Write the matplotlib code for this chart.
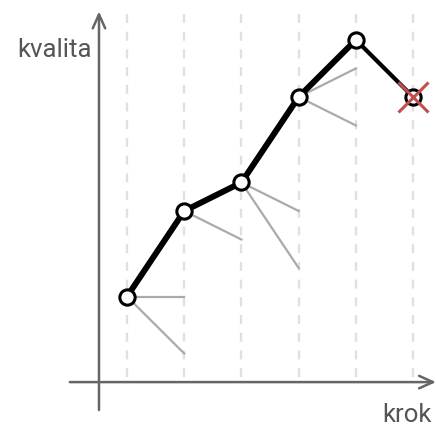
import matplotlib
matplotlib.use("Agg")
import matplotlib.pyplot as plt

# hill climbing: accepted path and rejected neighbours
kroky = [0, 1, 2, 3, 4]
kvalita = [3, 6, 7, 10, 12]
posledni_krok = 5
posledni_kvalita = 10

# rejected neighbours: (from step, neighbour quality)
sousede = [(0, 3), (0, 1), (1, 5), (2, 6), (2, 4), (3, 11), (3, 9)]

mrizka = [0, 1, 2, 3, 4, 5]

plt.rcParams['font.family'] = ['Roboto', 'DejaVu Sans']

fig = plt.figure(figsize=(4.36, 4.26), dpi=100)
ax = fig.add_axes([0, 0, 1, 1])
ax.set_xlim(-2.22, 5.40)
ax.set_ylim(-1.54, 13.40)
ax.axis('off')

# dashed guide lines
for x in mrizka:
    ax.plot([x, x], [12.92, 0], color='#e0e0e0', lw=1.7,
            dashes=(3.8, 3.7), zorder=1)

# axes with arrows
gray = '#666666'
ax.annotate('', xy=(-0.49, 13.0), xytext=(-0.49, -0.98),
            arrowprops=dict(arrowstyle='->,head_length=1.0,head_width=0.45',
                            color=gray, lw=1.8, shrinkA=0, shrinkB=0), zorder=2)
ax.annotate('', xy=(5.40, 0), xytext=(-1.0, 0),
            arrowprops=dict(arrowstyle='->,head_length=1.0,head_width=0.45',
                            color=gray, lw=1.8, shrinkA=0, shrinkB=0), zorder=2)

ax.text(-0.61, 11.4, 'kvalita', ha='right', va='baseline', fontsize=18.5, color='#555555')
ax.text(5.32, -1.4, 'krok', ha='right', va='baseline', fontsize=18.5, color='#555555')

# rejected neighbours
for k, q in sousede:
    ax.plot([k, k + 1], [kvalita[k], q], color='#aaaaaa', lw=1.6, zorder=3)

# last (rejected) step
ax.plot([kroky[-1], posledni_krok], [kvalita[-1], posledni_kvalita],
        color='black', lw=3.0, zorder=4)
ax.plot([posledni_krok], [posledni_kvalita], 'o', ms=11, mfc='white',
        mec='black', mew=2.2, zorder=5)
ax.plot([posledni_krok], [posledni_kvalita], 'x', ms=21, mew=2.2,
        color='#c0504d', zorder=6)

# accepted path
ax.plot(kroky, kvalita, color='black', lw=4.3, zorder=4,
        solid_capstyle='round')
ax.plot(kroky, kvalita, 'o', ms=11, mfc='white', mec='black', mew=2.2, zorder=5)

fig.savefig('out.png', dpi=100)
